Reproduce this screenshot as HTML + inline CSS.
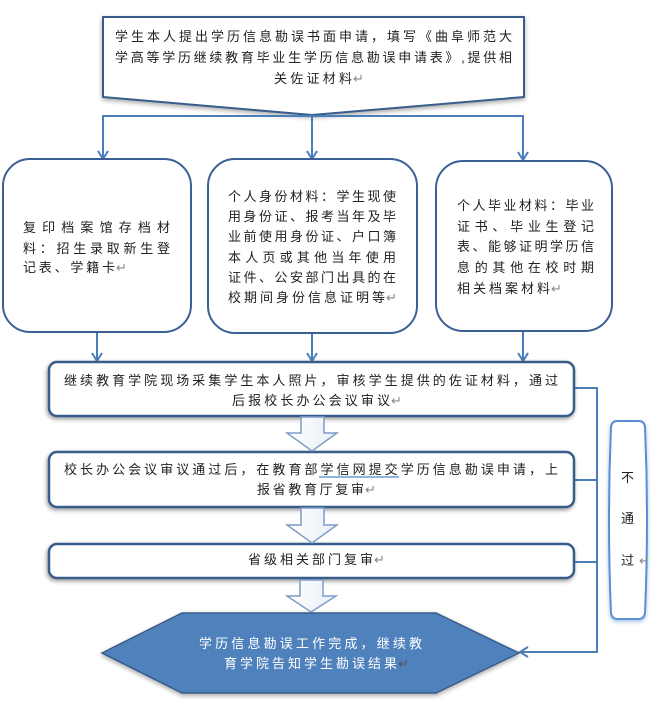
<!DOCTYPE html>
<html><head><meta charset="utf-8"><style>
html,body{margin:0;padding:0;background:#fff;}
svg{display:block;}
text{font-family:"Liberation Sans","Noto Sans CJK SC",sans-serif;font-size:13px;fill:#222;}
.rt{font-family:"DejaVu Sans",sans-serif;fill:#888;font-size:13px;}
</style></head><body>
<svg width="659" height="726" viewBox="0 0 659 726" xmlns="http://www.w3.org/2000/svg">
<defs>
<filter id="sh" x="-10%" y="-20%" width="120%" height="150%">
<feDropShadow dx="0" dy="2" stdDeviation="2.5" flood-color="#000" flood-opacity="0.35"/>
</filter>
<filter id="sh2" x="-10%" y="-30%" width="120%" height="170%">
<feDropShadow dx="-1" dy="2" stdDeviation="2" flood-color="#000" flood-opacity="0.4"/>
</filter>
<filter id="glow" x="-50%" y="-10%" width="200%" height="120%">
<feDropShadow dx="0" dy="2" stdDeviation="2" flood-color="#5a8ed5" flood-opacity="0.5"/>
</filter>
<linearGradient id="ag" x1="0" y1="0" x2="1" y2="0">
<stop offset="0" stop-color="#ffffff"/><stop offset="1" stop-color="#e8eef7"/>
</linearGradient>
</defs>

<!-- top pentagon -->
<polygon points="103,17 524,17 524,97 312,115 103,97" fill="#fff" stroke="#385d8a" stroke-width="2" filter="url(#sh)"/>
<text x="115" y="41" textLength="397" lengthAdjust="spacing">学生本人提出学历信息勘误书面申请，填写《曲阜师范大</text>
<text x="115" y="62" textLength="397" lengthAdjust="spacing">学高等学历继续教育毕业生学历信息勘误申请表》,提供相</text>
<text x="274" y="83" textLength="78" lengthAdjust="spacing">关佐证材料</text><text class="rt" x="353" y="83">↵</text>

<!-- connectors top -->
<g stroke="#4a7ebb" stroke-width="2" fill="none">
<line x1="312" y1="115" x2="312" y2="158"/>
<polyline points="103,159 103,116 523,116 523,160"/>
<polyline points="98,151 103,159 108,151"/>
<polyline points="307,151 312,159 317,151"/>
<polyline points="518,152 523,160 528,152"/>
<line x1="97" y1="333" x2="97" y2="361"/>
<line x1="312" y1="334" x2="312" y2="361"/>
<line x1="523" y1="332" x2="523" y2="361"/>
<polyline points="92,353 97,361 102,353"/>
<polyline points="307,353 312,361 317,353"/>
<polyline points="518,353 523,361 528,353"/>
</g>

<!-- three rounded boxes -->
<g fill="#fff" stroke="#3b6096" stroke-width="2">
<rect x="3" y="159" width="188" height="173" rx="27"/>
<rect x="208" y="159" width="209" height="174" rx="27"/>
<rect x="436" y="161" width="176" height="170" rx="27"/>
</g>
<text x="23" y="232" textLength="147" lengthAdjust="spacing">复印档案馆存档材</text>
<text x="23" y="253" textLength="147" lengthAdjust="spacing">料：招生录取新生登</text>
<text x="23" y="272" textLength="92" lengthAdjust="spacing">记表、学籍卡</text><text class="rt" x="116" y="272">↵</text>

<text x="228" y="201" textLength="168" lengthAdjust="spacing">个人身份材料：学生现使</text>
<text x="228" y="221" textLength="168" lengthAdjust="spacing">用身份证、报考当年及毕</text>
<text x="228" y="241" textLength="168" lengthAdjust="spacing">业前使用身份证、户口簿</text>
<text x="228" y="262" textLength="168" lengthAdjust="spacing">本人页或其他当年使用</text>
<text x="228" y="282" textLength="168" lengthAdjust="spacing">证件、公安部门出具的在</text>
<text x="228" y="302" textLength="157" lengthAdjust="spacing">校期间身份信息证明等</text><text class="rt" x="386" y="302">↵</text>

<text x="457" y="210" textLength="137" lengthAdjust="spacing">个人毕业材料：毕业</text>
<text x="457" y="231" textLength="137" lengthAdjust="spacing">证书、毕业生登记</text>
<text x="457" y="251" textLength="137" lengthAdjust="spacing">表、能够证明学历信</text>
<text x="457" y="272" textLength="137" lengthAdjust="spacing">息的其他在校时期</text>
<text x="457" y="293" textLength="93" lengthAdjust="spacing">相关档案材料</text><text class="rt" x="551" y="293">↵</text>

<!-- right connector to hexagon -->
<g stroke="#4a7ebb" stroke-width="2" fill="none">
<polyline points="574,388 597,388 597,652 520,652"/>
<line x1="574" y1="480" x2="597" y2="480"/>
<line x1="574" y1="562" x2="597" y2="562"/>
<polyline points="528,647 520,652 528,657"/>
</g>

<!-- step boxes -->
<g fill="#fff" stroke="#385d8a" stroke-width="2.5" filter="url(#sh2)">
<rect x="49" y="362" width="525" height="54" rx="8"/>
<rect x="49" y="452" width="525" height="55" rx="8"/>
<rect x="49" y="544" width="525" height="34" rx="8"/>
</g>
<text x="64" y="385" textLength="494" lengthAdjust="spacing">继续教育学院现场采集学生本人照片，审核学生提供的佐证材料，通过</text>
<text x="232" y="405" textLength="158" lengthAdjust="spacing">后报校长办公会议审议</text><text class="rt" x="391" y="405">↵</text>
<text x="64" y="474" textLength="494" lengthAdjust="spacing">校长办公会议审议通过后，在教育部学信网提交学历信息勘误申请，上</text>
<line x1="319" y1="477" x2="399" y2="477" stroke="#8eb4e3" stroke-width="2"/>
<text x="257" y="494" textLength="107" lengthAdjust="spacing">报省教育厅复审</text><text class="rt" x="365" y="494">↵</text>
<text x="248" y="564" textLength="125" lengthAdjust="spacing">省级相关部门复审</text><text class="rt" x="374" y="564">↵</text>

<!-- block arrows -->
<g fill="url(#ag)" stroke="#7f9cc8" stroke-width="1.5" stroke-linejoin="miter">
<polygon points="301,417 324,417 324,433 337,433 312,451 287,433 301,433"/>
<polygon points="301,508 324,508 324,525 337,525 312,543 287,525 301,525"/>
<polygon points="300,580 323,580 323,596 336,596 311,612 287,596 300,596"/>
</g>

<!-- hexagon -->
<polygon points="102,653 182,613 436,613 519,653 436,693 182,693" fill="#4f81bd" stroke="#385d8a" stroke-width="1.5" filter="url(#sh)"/>
<text x="199" y="648" textLength="223" lengthAdjust="spacing" style="fill:#fff">学历信息勘误工作完成，继续教</text>
<text x="224" y="668" textLength="173" lengthAdjust="spacing" style="fill:#fff">育学院告知学生勘误结果</text><text class="rt" x="398" y="668" style="fill:#555">↵</text>

<!-- 不通过 pill -->
<path d="M617,421 L639,421 Q644,421 645,427 Q649,520 645,613 Q644,619 639,619 L617,619 Q612,619 611,613 Q607,520 611,427 Q612,421 617,421 Z" fill="#fff" stroke="#5a8ed5" stroke-width="2" filter="url(#glow)"/>
<text x="621" y="482">不</text>
<text x="621" y="523">通</text>
<text x="621" y="565">过</text><text class="rt" x="639" y="565">↵</text>
</svg>
</body></html>
